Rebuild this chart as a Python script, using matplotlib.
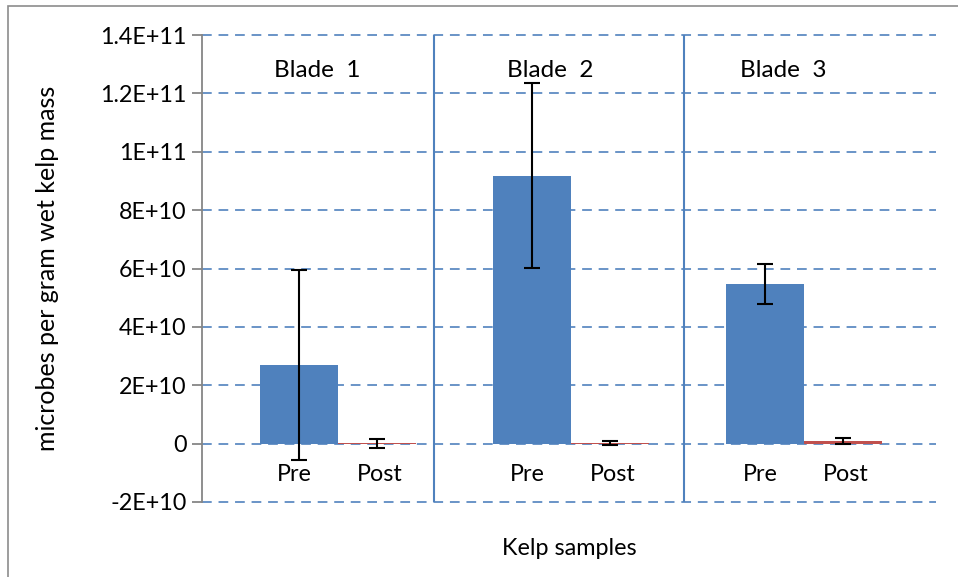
import numpy as np
import matplotlib.pyplot as plt
from matplotlib.patches import Rectangle

plt.rcParams['font.family'] = ['Lato', 'DejaVu Sans']

blades = ["Blade  1", "Blade  2", "Blade  3"]
pre = [2.7e10, 9.18e10, 5.47e10]
pre_err = [3.25e10, 3.17e10, 0.70e10]
post = [1e8, 3e8, 8e8]
post_err = [1.5e9, 6e8, 1.0e9]
yticks = [-2e10, 0, 2e10, 4e10, 6e10, 8e10, 1e11, 1.2e11, 1.4e11]
ytick_labels = ["-2E+10", "0", "2E+10", "4E+10", "6E+10", "8E+10", "1E+11", "1.2E+11", "1.4E+11"]

blue = "#4F81BD"
red = "#C0504D"
fs = 16.8

W, H = 958, 577
fig = plt.figure(figsize=(W / 100, H / 100), dpi=100)
ax = fig.add_axes([202 / W, 1 - 502 / H, (936 - 202) / W, (502 - 35) / H])

# chart area border (only left/top visible in the crop)
fig.patches.append(Rectangle((8 / W, -0.1), 1.2, 1 - 6 / H + 0.1, transform=fig.transFigure,
                             fill=False, edgecolor="#8C8C8C", linewidth=1.2))

x = np.arange(len(blades))
w = 0.335
ax.bar(x - w / 2, pre, w, color=blue, zorder=3)
ax.bar(x + w / 2, post, w, color=red, zorder=3)
ax.errorbar(x - w / 2, pre, yerr=pre_err, fmt="none", ecolor="black", elinewidth=1.5,
            capsize=6, capthick=1.5, zorder=4)
ax.errorbar(x + w / 2, post, yerr=post_err, fmt="none", ecolor="black", elinewidth=1.5,
            capsize=6, capthick=1.5, zorder=4)

ax.set_xlim(-0.584, 2.567)
ax.set_ylim(-2e10, 1.4e11)
ax.set_yticks(yticks)
ax.set_yticklabels(ytick_labels, fontsize=fs)
ax.set_xticks([])

for yv in yticks:
    ax.axhline(yv, color=blue, linewidth=1.4, linestyle=(0, (5, 3.5)), alpha=0.85,
               zorder=1, clip_on=False)

for xs in [0.412, 1.485]:
    ax.axvline(xs, color=blue, linewidth=1.5, zorder=2)

for i, b in enumerate(blades):
    ax.text(x[i] - 0.09, 1.28e11, b, ha="center", va="center", fontsize=17.5)
    ax.text(x[i] - w / 2 - 0.02, -1.05e10, "Pre", ha="center", va="center", fontsize=fs)
    ax.text(x[i] + w / 2 + 0.01, -1.05e10, "Post", ha="center", va="center", fontsize=fs)

for s in ["top", "right", "bottom"]:
    ax.spines[s].set_visible(False)
ax.spines["left"].set_color("#868686")
ax.spines["left"].set_linewidth(1.3)
ax.spines["left"].set_zorder(5)
ax.tick_params(axis="y", direction="out", length=7, width=1.3, color="#868686", pad=4)

ax.set_ylabel("microbes per gram wet kelp mass", fontsize=18, labelpad=30)
ax.set_xlabel("Kelp samples", fontsize=fs, labelpad=26)

fig.savefig("out.png", dpi=100)
